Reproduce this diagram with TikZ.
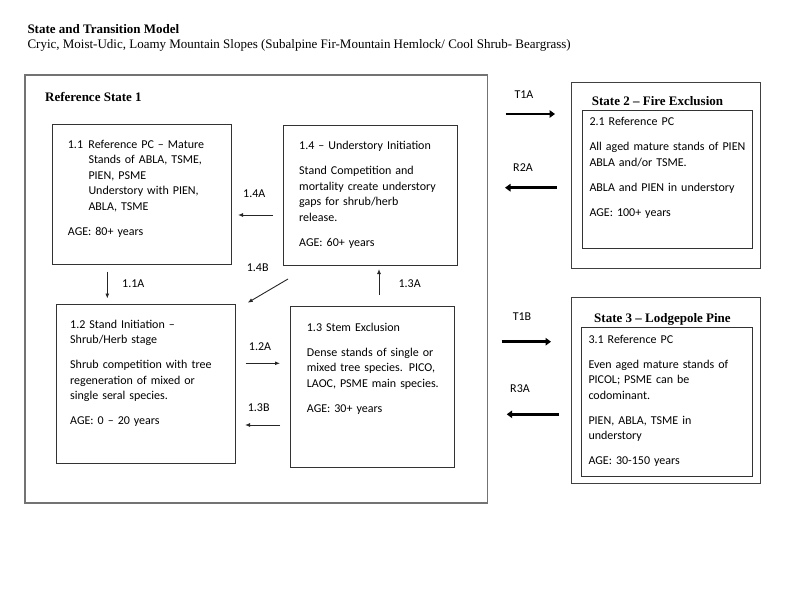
\documentclass[tikz,border=0pt]{standalone}
\usepackage{fontspec}
\setmainfont{Liberation Serif}
\newfontfamily\calibri{Carlito}
\usepackage{tikz}
\usetikzlibrary{arrows.meta,positioning}
\tikzset{
    %Define standard arrow tip
    >={Latex[length=5pt,width=4pt]},
    %Define style for boxes
    statebox/.style={
           rectangle,
           draw=black!75, line width=1.1pt,
           anchor=north west,
           inner sep=0pt},
    refbox/.style={
           statebox,
           draw=black!55, line width=1.6pt},
    phasebox/.style={
           rectangle,
           draw=black!80, line width=1pt,
           anchor=north west,
           inner sep=0pt},
    phasetxt/.style={
           anchor=base west,
           inner sep=0pt,
           text width=170pt,
           align=left},
    ttl/.style={
           anchor=base west,
           inner sep=0pt,
           font=\rmfamily\bfseries\fontsize{13}{15}\selectfont},
    lbl/.style={
           inner sep=0pt},
    % Define arrow style
    arr/.style={
           ->,
           line width=0.9pt,
           draw=black!85},
    fatarr/.style={
           -{Triangle[length=5.5pt,width=7.5pt]},
           line width=2.8pt}
}
\begin{document}
\begin{tikzpicture}[x=1pt,y=-1pt,font=\calibri\fontsize{12}{15.5}\selectfont]
\useasboundingbox (0,0) rectangle (800,605);

 %titles
\node[ttl] (head) at (27.3,33.3) {State and Transition Model};
\node[ttl, font=\rmfamily\fontsize{13}{15}\selectfont] (sub) at (27.3,48.6)
    {Cryic, Moist-Udic, Loamy Mountain Slopes (Subalpine Fir-Mountain Hemlock/ Cool Shrub- Beargrass)};

 %reference state
\node[refbox, minimum width=462.4pt, minimum height=427.7pt] (r1) at (24.3,74.3) {};
\node[ttl] (r1t) at (45,101) {Reference State 1};

\node[phasebox, minimum width=178.4pt, minimum height=139.7pt] (p11) at (52.3,124.3) {};
\node[phasebox, minimum width=173.7pt, minimum height=139.5pt] (p14) at (283,125) {};
\node[phasebox, minimum width=179pt, minimum height=159.3pt] (p12) at (56,304) {};
\node[phasebox, minimum width=164.3pt, minimum height=161.6pt] (p13) at (290,305.7) {};

\node[phasetxt] (t11) at (67.7,148) {\makebox[20.6pt][l]{1.1}Reference PC – Mature\\
    \hspace*{20.6pt}Stands of ABLA, TSME,\\
    \hspace*{20.6pt}PIEN, PSME\\
    \hspace*{20.6pt}Understory with PIEN,\\
    \hspace*{20.6pt}ABLA, TSME\\[9.5pt]
    AGE: 80+ years};
\node[phasetxt] (t14) at (299,149.7) {1.4 – Understory Initiation\\[9.5pt]
    Stand Competition and\\ mortality create understory\\ gaps for shrub/herb\\ release.\\[9.5pt]
    AGE: 60+ years};
\node[phasetxt] (t12) at (70,328.3) {1.2 Stand Initiation –\\ Shrub/Herb stage\\[9.5pt]
    Shrub competition with tree\\ regeneration of mixed or\\ single seral species.\\[9.5pt]
    AGE: 0 – 20 years};
\node[phasetxt] (t13) at (306.7,331.3) {1.3 Stem Exclusion\\[9.5pt]
    Dense stands of single or\\ mixed tree species. PICO,\\ LAOC, PSME main species.\\[9.5pt]
    AGE: 30+ years};

 %other states
\node[statebox, minimum width=189.3pt, minimum height=185.4pt] (s2) at (570.7,82.3) {};
\node[ttl] (s2t) at (591.7,105.3) {State 2 – Fire Exclusion};
\node[phasebox, minimum width=170.6pt, minimum height=137.7pt] (p21) at (581.7,110) {};
\node[phasetxt] (t21) at (589.3,125.7) {2.1 Reference PC\\[9.5pt]
    All aged mature stands of PIEN\\ ABLA and/or TSME.\\[9.5pt]
    ABLA and PIEN in understory\\[9.5pt]
    AGE: 100+ years};

\node[statebox, minimum width=189.3pt, minimum height=186pt] (s3) at (570.7,297.3) {};
\node[ttl] (s3t) at (594,322.6) {State 3 – Lodgepole Pine};
\node[phasebox, minimum width=171pt, minimum height=148.4pt] (p31) at (580.7,327.3) {};
\node[phasetxt] (t31) at (588.3,343.3) {3.1 Reference PC\\[9.5pt]
    Even aged mature stands of\\ PICOL; PSME can be\\ codominant.\\[9.5pt]
    PIEN, ABLA, TSME in\\ understory\\[9.5pt]
    AGE: 30-150 years};

 %arrow ends
\coordinate (a11s) at (107.3,271.7);
\coordinate (a11e) at (107.3,298.5);
\coordinate (a14s) at (273,215);
\coordinate (a14e) at (238,215);
\coordinate (b14s) at (288,279);
\coordinate (b14e) at (247.7,302.7);
\coordinate (a13s) at (379,295);
\coordinate (a13e) at (379,269);
\coordinate (a12s) at (245.7,363.3);
\coordinate (a12e) at (280,363.3);
\coordinate (b13s) at (280,425);
\coordinate (b13e) at (245,425);
\coordinate (t1as) at (505.7,114);
\coordinate (t1ae) at (555,114);
\coordinate (r2as) at (556.7,187.7);
\coordinate (r2ae) at (505,187.7);
\coordinate (t1bs) at (501.7,341.7);
\coordinate (t1be) at (551,341.7);
\coordinate (r3as) at (559,414.3);
\coordinate (r3ae) at (506.7,414.3);

 %transitions
\draw[arr] (a11s) -- (a11e);
\draw[arr] (a14s) -- (a14e);
\draw[arr] (b14s) -- (b14e);
\draw[arr] (a13s) -- (a13e);
\draw[arr] (a12s) -- (a12e);
\draw[arr] (b13s) -- (b13e);
\draw[fatarr] (t1as) -- (t1ae);
\draw[fatarr] (r2as) -- (r2ae);
\draw[fatarr] (t1bs) -- (t1be);
\draw[fatarr] (r3as) -- (r3ae);

\node[lbl] (l11a) at (133.3,284) {1.1A};
\node[lbl] (l14a) at (254.3,194) {1.4A};
\node[lbl] (l14b) at (257.7,268) {1.4B};
\node[lbl] (l13a) at (409.7,284) {1.3A};
\node[lbl] (l12a) at (260,347) {1.2A};
\node[lbl] (l13b) at (258.7,407.3) {1.3B};
\node[lbl] (lt1a) at (524,95) {T1A};
\node[lbl] (lr2a) at (523,167.7) {R2A};
\node[lbl] (lt1b) at (522,316.7) {T1B};
\node[lbl] (lr3a) at (520,388.3) {R3A};
\end{tikzpicture}
\end{document}
